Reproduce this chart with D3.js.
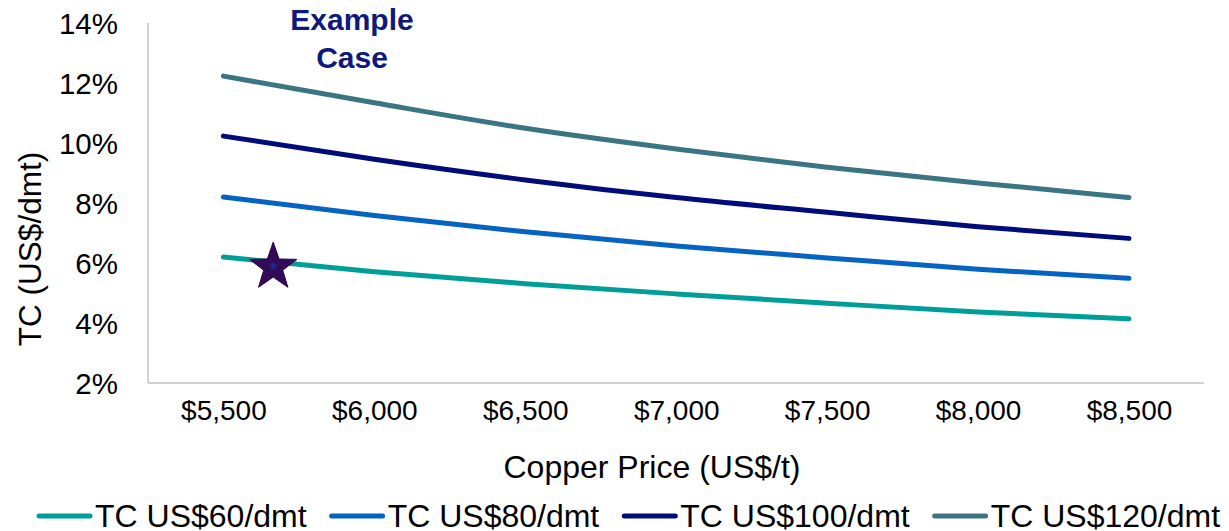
<!DOCTYPE html>
<html><head><meta charset="utf-8">
<script src="https://cdn.jsdelivr.net/npm/d3@7"></script>
<style>
html,body{margin:0;padding:0;background:#fff;}
svg{display:block;font-family:"Liberation Sans",Arial,sans-serif;}
</style></head>
<body>
<svg id="chart" width="1229" height="531"></svg>
<script>
const prices = [5500, 6000, 6500, 7000, 7500, 8000, 8500];
const tc60  = [6.20, 5.71, 5.31, 4.97, 4.66, 4.37, 4.14];
const tc80  = [8.20, 7.58, 7.04, 6.57, 6.17, 5.79, 5.49];
const tc100 = [10.23, 9.46, 8.77, 8.18, 7.69, 7.21, 6.82];
const tc120 = [12.23, 11.34, 10.49, 9.80, 9.19, 8.67, 8.18];
const seriesNames = ["TC US$60/dmt", "TC US$80/dmt", "TC US$100/dmt", "TC US$120/dmt"];
const seriesColors = ["#009E99", "#0563C1", "#000C78", "#3B7583"];
const yTicks = [2, 4, 6, 8, 10, 12, 14];
const exampleCase = {price: 5665, value: 5.93};

const svg = d3.select("#chart");
const plotL = 148, plotR = 1204, plotT = 23, plotB = 383;
const x = d3.scaleLinear().domain([5500, 8500]).range([223.4, 1129]);
const y = d3.scaleLinear().domain([2, 14]).range([plotB, plotT]);

// axes lines
svg.append("line").attr("x1", plotL).attr("x2", plotL).attr("y1", plotT).attr("y2", plotB)
  .attr("stroke", "#C0C0C0").attr("stroke-width", 1.5);
svg.append("line").attr("x1", plotL).attr("x2", plotR).attr("y1", plotB).attr("y2", plotB)
  .attr("stroke", "#C0C0C0").attr("stroke-width", 1.5);

// y axis
const yAxis = d3.axisLeft(y).tickValues(yTicks).tickFormat(d => d + "%").tickSize(0).tickPadding(0);
const gy = svg.append("g").attr("transform", "translate(118,0)").call(yAxis);
gy.select(".domain").remove();
gy.selectAll("text").attr("font-size", 29.5).attr("fill", "#000").attr("font-family", "Liberation Sans, Arial, sans-serif").attr("dy", "0.35em");

// x axis
const xAxis = d3.axisBottom(x).tickValues(prices).tickFormat(d3.format("$,.0f")).tickSize(0).tickPadding(0);
const gx = svg.append("g").attr("transform", "translate(0,400)").call(xAxis);
gx.select(".domain").remove();
gx.selectAll("text").attr("font-size", 28).attr("fill", "#000").attr("font-family", "Liberation Sans, Arial, sans-serif").attr("dy", "0.71em");

// axis titles
svg.append("text").attr("x", 652).attr("y", 478).attr("text-anchor", "middle")
  .attr("font-size", 32).attr("fill", "#000").text("Copper Price (US$/t)");
svg.append("text").attr("transform", "translate(41,249) rotate(-90)").attr("text-anchor", "middle")
  .attr("font-size", 31.5).attr("fill", "#000").text("TC (US$/dmt)");

// lines
const allSeries = [tc60, tc80, tc100, tc120];
const line = d3.line().x((d, i) => x(prices[i])).y(d => y(d)).curve(d3.curveMonotoneX);
allSeries.forEach((s, k) => {
  svg.append("path").datum(s).attr("d", line).attr("fill", "none")
    .attr("stroke", seriesColors[k]).attr("stroke-width", 5).attr("stroke-linecap", "round").attr("stroke-linejoin", "round");
});

// star marker
function starPath(cx, cy, R, r) {
  const pts = [];
  for (let i = 0; i < 10; i++) {
    const a = -Math.PI / 2 + i * Math.PI / 5;
    const rr = i % 2 === 0 ? R : r;
    pts.push([cx + rr * Math.cos(a), cy + rr * Math.sin(a)]);
  }
  return "M" + pts.map(p => p.join(",")).join("L") + "Z";
}
const sx = x(exampleCase.price), sy = y(exampleCase.value);
svg.append("path").attr("d", starPath(sx, sy + 2, 25, 10)).attr("fill", "#330A55").attr("stroke", "#2a0848").attr("stroke-width", 1);
svg.append("path").attr("d", starPath(sx, sy + 1, 5, 2)).attr("fill", "#1B2A9A");

// annotation
const ann = svg.append("text").attr("text-anchor", "middle").attr("font-weight", "bold")
  .attr("font-size", 30).attr("fill", "#0D1A7A");
ann.append("tspan").attr("x", 352).attr("y", 30).text("Example");
ann.append("tspan").attr("x", 352).attr("y", 68).text("Case");

// legend
let lx = 37;
const ly = 516;
seriesNames.forEach((name, k) => {
  svg.append("line").attr("x1", lx + 2).attr("x2", lx + 53).attr("y1", ly).attr("y2", ly)
    .attr("stroke", seriesColors[k]).attr("stroke-width", 5).attr("stroke-linecap", "round");
  const t = svg.append("text").attr("x", lx + 58).attr("y", ly + 11).attr("font-size", 32).attr("fill", "#000").text(name);
  lx = lx + 58 + t.node().getComputedTextLength() + 23;
});
</script>
</body></html>
